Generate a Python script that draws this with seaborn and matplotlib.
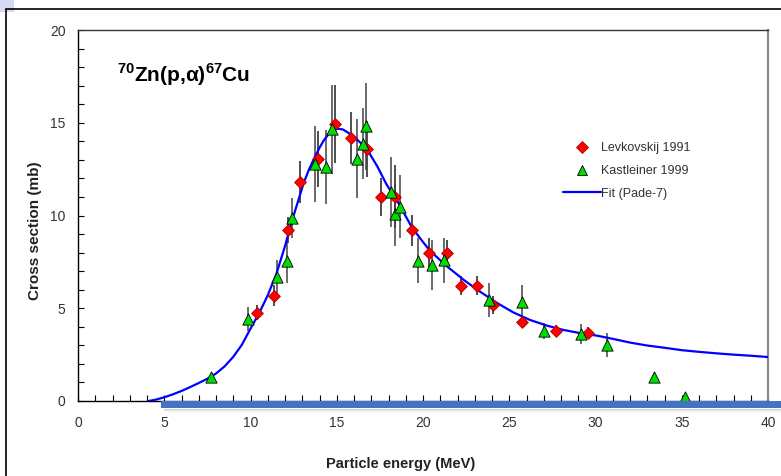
import matplotlib
matplotlib.use("Agg")
import matplotlib.pyplot as plt
from matplotlib.patches import Rectangle
from matplotlib.lines import Line2D
import seaborn as sns
import pandas as pd

# ---- data ----
lev_energy = [10.4, 11.35, 12.15, 12.85, 13.9, 14.9, 15.85, 16.75, 17.55, 18.35, 19.35,
              20.35, 21.4, 22.2, 23.15, 24.05, 25.75, 27.7, 29.55]
lev_xs = [4.77, 5.68, 9.2, 11.8, 13.03, 14.95, 14.2, 13.6, 11.0, 11.0, 9.2,
          8.0, 8.0, 6.22, 6.22, 5.18, 4.27, 3.79, 3.68]
lev_err = [0.4, 0.55, 0.7, 1.15, 1.5, 2.1, 1.4, 1.5, 1.0, 1.7, 0.85,
           0.77, 0.7, 0.5, 0.5, 0.5, 0.3, 0.3, 0.3]

kas_energy = [7.7, 9.83, 11.52, 12.13, 12.4, 13.72, 14.4, 14.72, 16.15, 16.52, 16.72,
              18.15, 18.4, 18.65, 19.72, 20.52, 21.23, 23.84, 25.73, 27.04, 29.15,
              30.65, 33.41, 35.17]
kas_xs = [1.3, 4.42, 6.68, 7.54, 9.87, 12.78, 12.6, 14.65, 13.07, 13.88, 14.8,
          11.26, 10.06, 10.48, 7.57, 7.32, 7.58, 5.44, 5.32, 3.77, 3.6,
          3.03, 1.29, 0.23]
kas_err = [0.0, 0.67, 0.9, 1.2, 1.1, 2.07, 2.0, 2.4, 2.15, 1.9, 2.35,
           1.9, 1.7, 1.7, 1.2, 1.35, 1.2, 0.9, 0.95, 0.45, 0.55,
           0.65, 0.0, 0.0]

fit_energy = [4.1, 4.5, 5.0, 5.5, 6.0, 6.5, 7.0, 7.5, 8.0, 8.5, 9.0, 9.5, 10.0, 10.5,
              11.0, 11.5, 12.0, 12.4, 12.8, 13.1, 13.4, 13.7, 14.0, 14.25, 14.5, 14.75,
              15.05, 15.35, 15.6, 15.9, 16.2, 16.5, 16.8, 17.35, 17.9,
              18.5, 19.3, 19.85, 20.4, 21.4, 22.4, 23.3, 24.3, 25.25, 26.2, 27.2,
              28.15, 29.1, 30.1, 31.0, 32.0, 33.0, 34.0, 35.0, 36.0, 37.0, 38.0,
              39.0, 40.0]
fit_xs = [0.0, 0.07, 0.2, 0.36, 0.54, 0.75, 0.97, 1.2, 1.48, 1.87, 2.38, 3.03, 3.9, 4.73,
          5.7, 6.85, 8.35, 9.7, 10.9, 11.8, 12.5, 13.1, 13.65, 14.05, 14.35, 14.58,
          14.68, 14.64, 14.5, 14.3, 14.07, 13.82, 13.5, 12.65, 11.65,
          10.8, 9.45, 8.75, 8.1, 7.25, 6.5, 5.9, 5.28, 4.77, 4.37, 4.06,
          3.83, 3.66, 3.52, 3.35, 3.15, 2.99, 2.87, 2.74, 2.65, 2.57, 2.5,
          2.44, 2.37]

x_ticks = [0, 5, 10, 15, 20, 25, 30, 35, 40]
y_ticks = [0, 5, 10, 15, 20]
title_text = r"$^{\mathbf{70}}$Zn(p,α)$^{\mathbf{67}}$Cu"
x_label = "Particle energy (MeV)"
y_label = "Cross section (mb)"
legend_labels = ["Levkovskij 1991", "Kastleiner 1999", "Fit (Pade-7)"]

# ---- style ----
sns.set_style("white")
plt.rcParams["font.family"] = ["Liberation Sans", "DejaVu Sans"]
plt.rcParams["mathtext.fontset"] = "custom"
plt.rcParams["mathtext.rm"] = "Liberation Sans"
plt.rcParams["mathtext.bf"] = "Liberation Sans:bold"

fig = plt.figure(figsize=(7.81, 4.76), dpi=100)
fig.patch.set_facecolor("white")
ax = fig.add_axes([78 / 781, 75 / 476, 690 / 781, 371 / 476])

lev = pd.DataFrame({"E": lev_energy, "XS": lev_xs, "err": lev_err})
kas = pd.DataFrame({"E": kas_energy, "XS": kas_xs, "err": kas_err})
fit = pd.DataFrame({"E": fit_energy, "XS": fit_xs})

ax.errorbar(kas["E"], kas["XS"], yerr=kas["err"], fmt="none", ecolor="#5f5f5f",
            elinewidth=1.3, capsize=0, zorder=2)
ax.errorbar(lev["E"], lev["XS"], yerr=lev["err"], fmt="none", ecolor="#404040",
            elinewidth=1.3, capsize=0, zorder=2)

sns.lineplot(data=fit, x="E", y="XS", ax=ax, color="#0000ff", linewidth=1.6,
             sort=False, zorder=3, legend=False)
sns.scatterplot(data=lev, x="E", y="XS", ax=ax, marker="D", s=36, color="#ff0000",
                edgecolor="#b00000", linewidth=0.6, zorder=4, legend=False)
sns.scatterplot(data=kas, x="E", y="XS", ax=ax, marker="^", s=66, color="#00dd00",
                edgecolor="black", linewidth=0.6, zorder=5, legend=False)

ax.set_xlim(0, 40)
ax.set_ylim(0, 20)
ax.set_xticks(x_ticks)
ax.set_yticks(y_ticks)
ax.set_xticks(range(0, 41), minor=True)
ax.set_yticks(range(0, 21), minor=True)
ax.tick_params(which="both", direction="in", length=4, width=0.8, color="black",
               bottom=True, left=True, top=False, right=False)
ax.tick_params(axis="x", which="major", pad=11, labelsize=10, labelcolor="#333333")
ax.tick_params(axis="y", which="major", pad=9, labelsize=10, labelcolor="#333333")

for side in ["left", "bottom"]:
    ax.spines[side].set_color("black")
    ax.spines[side].set_linewidth(1.0)
ax.spines["top"].set_color("#333333")
ax.spines["top"].set_linewidth(1.0)
ax.spines["right"].set_color("#8a8a8a")
ax.spines["right"].set_linewidth(1.6)

ax.set_xlabel(x_label, fontsize=10.5, fontweight="bold", color="#222222")
ax.xaxis.set_label_coords(0.468, -0.15)
ax.set_ylabel(y_label, fontsize=11, fontweight="bold", color="#222222")
ax.yaxis.set_label_coords(-0.052, 0.46)

ax.text(0.057, 0.88, title_text, transform=ax.transAxes, fontsize=15,
        fontweight="bold", ha="left", va="center", color="black")

handles = [
    Line2D([], [], marker="D", linestyle="none", markersize=6.0,
           markerfacecolor="#ff0000", markeredgecolor="#b00000", markeredgewidth=0.6),
    Line2D([], [], marker="^", linestyle="none", markersize=7.8,
           markerfacecolor="#00dd00", markeredgecolor="black", markeredgewidth=0.6),
    Line2D([], [], color="#0000ff", linewidth=1.6),
]
leg = ax.legend(handles, legend_labels, loc="upper left", bbox_to_anchor=(0.703, 0.697),
                frameon=False, fontsize=9, handlelength=3.0, handletextpad=0.05,
                labelspacing=0.85, borderpad=0, borderaxespad=0)
for t in leg.get_texts():
    t.set_color("#333333")

# decorative elements: corner square, outer frame, blue bar with shadow
fig.add_artist(Rectangle((0, 1 - 12 / 476), 14 / 781, 12 / 476,
                         transform=fig.transFigure, facecolor="#d6daf0",
                         edgecolor="none", zorder=0))
fig.add_artist(Rectangle((6 / 781, -0.1), 1.2, 1 - 9 / 476 + 0.1,
                         transform=fig.transFigure, facecolor="none",
                         edgecolor="black", linewidth=1.2, zorder=1))
for i, a in enumerate([0.25, 0.15, 0.07]):
    fig.add_artist(Rectangle((164 / 781, (476 - 409 - i - 1) / 476), 1, 1 / 476,
                             transform=fig.transFigure, facecolor="#555555",
                             alpha=a, edgecolor="none", zorder=9))
fig.add_artist(Rectangle((161 / 781, (476 - 408) / 476), 1, 7 / 476,
                         transform=fig.transFigure, facecolor="#4472c4",
                         edgecolor="none", zorder=10))

fig.savefig("out.png", dpi=100)
